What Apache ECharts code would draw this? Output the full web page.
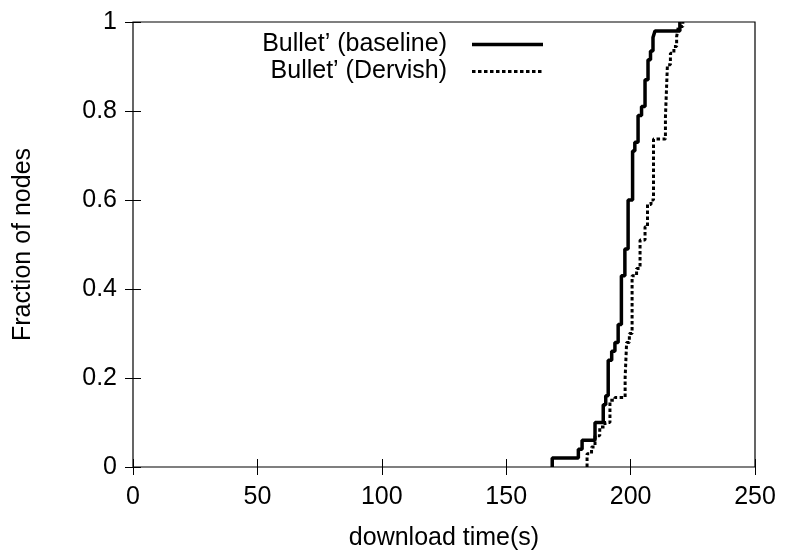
<!DOCTYPE html>
<html>
<head>
<meta charset="utf-8">
<script src="https://cdn.jsdelivr.net/npm/echarts@6/dist/echarts.min.js"></script>
<style>
  html, body { margin: 0; padding: 0; background: #fff; }
  #chart { width: 785px; height: 556px; }
</style>
</head>
<body>
<div id="chart"></div>
<script>
// CDF of download times: [time(s), fraction]
const baselineName = 'Bullet\u2019 (baseline)'
const dervishName = 'Bullet\u2019 (Dervish)'
const baseline = [
  [168.5, 0], [168.5, 0.02], [179, 0.04], [180.5, 0.06], [185.7, 0.10],
  [189, 0.14], [190, 0.16], [191, 0.24], [192.4, 0.26], [193.7, 0.28],
  [195, 0.32], [196.3, 0.43], [197.7, 0.49], [199, 0.60], [200.8, 0.71],
  [201.7, 0.73], [203, 0.79], [204.4, 0.81], [205.8, 0.87], [207, 0.915],
  [208, 0.935], [209, 0.965], [209.8, 0.98], [219.8, 1.0]
]
const dervish = [
  [182.5, 0], [182.5, 0.03], [184.3, 0.045], [185.7, 0.07], [187.6, 0.09],
  [189.7, 0.10], [191.7, 0.15], [193.7, 0.156], [197.8, 0.20], [198.4, 0.28],
  [199.5, 0.30], [200.6, 0.43], [202.4, 0.446], [203.8, 0.51], [205.8, 0.54],
  [206.8, 0.59], [208.2, 0.60], [209.2, 0.737], [214, 0.786], [214.8, 0.904],
  [216, 0.93], [217.4, 0.945], [218.5, 0.967], [219.2, 0.99], [221, 1.0]
]
const xTicks = [0, 50, 100, 150, 200, 250]
const yTicks = [0, 0.2, 0.4, 0.6, 0.8, 1]

const font = 'Liberation Sans, Arial, Helvetica, sans-serif'
const fs = 25
const chart = echarts.init(document.getElementById('chart'))

const tickStyle = { inside: true, length: 8, lineStyle: { color: '#000', width: 1 } }
const noSymbol = { color: 'rgba(0,0,0,0)', borderColor: 'rgba(0,0,0,0)', borderWidth: 0 }

chart.setOption({
  animation: false,
  textStyle: { fontFamily: font },
  grid: {
    left: 133, right: 30, top: 22, bottom: 86,
    show: true, borderColor: '#000', borderWidth: 1.2, containLabel: false
  },
  legend: {
    orient: 'vertical',
    left: 246, top: 27,
    align: 'right',
    itemWidth: 71, itemHeight: 12, itemGap: 2,
    formatter: name => '{a|' + name + '}{g|}',
    textStyle: {
      fontFamily: font, color: '#000',
      rich: {
        a: { fontSize: fs, width: 196, align: 'right', color: '#000', fontFamily: font, lineHeight: 26 },
        g: { width: 20 }
      }
    },
    data: [
      { name: baselineName, itemStyle: noSymbol,
        lineStyle: { color: '#000', width: 3.5, type: 'solid' } },
      { name: dervishName, itemStyle: noSymbol,
        lineStyle: { color: '#000', width: 3, type: [3.5, 2.5] } }
    ]
  },
  xAxis: [
    {
      type: 'value', min: 0, max: 250, interval: 50,
      name: 'download time(s)', nameLocation: 'middle', nameGap: 59,
      nameTextStyle: { fontSize: fs, color: '#000' },
      axisLine: { show: false }, splitLine: { show: false },
      axisTick: tickStyle,
      axisLabel: { fontSize: fs, color: '#000', margin: 18,
        formatter: v => xTicks.includes(v) ? String(v) : '' }
    },
    {
      type: 'value', min: 0, max: 250, interval: 50, position: 'top',
      axisLine: { show: false }, splitLine: { show: false },
      axisTick: tickStyle, axisLabel: { show: false }
    }
  ],
  yAxis: [
    {
      type: 'value', min: 0, max: 1, interval: 0.2,
      name: 'Fraction of nodes', nameLocation: 'middle', nameGap: 97,
      nameTextStyle: { fontSize: fs, color: '#000' },
      axisLine: { show: false }, splitLine: { show: false },
      axisTick: tickStyle,
      axisLabel: { fontSize: fs, color: '#000', margin: 16,
        formatter: v => {
          const t = yTicks.find(k => Math.abs(k - v) < 1e-9)
          return t === undefined ? '' : String(t)
        } }
    },
    {
      type: 'value', min: 0, max: 1, interval: 0.2, position: 'right',
      axisLine: { show: false }, splitLine: { show: false },
      axisTick: tickStyle, axisLabel: { show: false }
    }
  ],
  series: [
    {
      name: baselineName, type: 'line', step: 'end', data: baseline,
      showSymbol: false, symbol: 'none',
      lineStyle: { color: '#000', width: 3.5 },
      itemStyle: { color: '#000' }
    },
    {
      name: dervishName, type: 'line', step: 'end', data: dervish,
      showSymbol: false, symbol: 'none',
      lineStyle: { color: '#000', width: 3, type: [3.5, 2.5] },
      itemStyle: { color: '#000' }
    }
  ]
})
</script>
</body>
</html>
